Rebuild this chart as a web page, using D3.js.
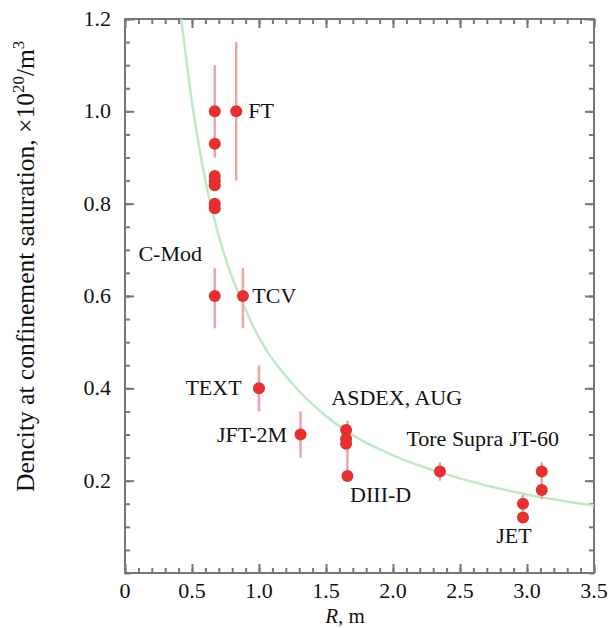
<!DOCTYPE html>
<html lang="en">
<head>
<meta charset="utf-8">
<script src="https://cdn.jsdelivr.net/npm/d3@7"></script>
<style>
  body { margin: 0; background: #fff; }
  .lbl { font-size: 22px; }
  .tick-lbl { font-size: 22px; }
</style>
</head>
<body>
<div id="chart"></div>
<script>
// measured points: R (m), density (1e20/m^3)
var pointR   = [0.67, 0.67, 0.67, 0.67, 0.67, 0.67, 0.67, 0.67, 0.83, 0.88, 1.00, 1.31, 1.65, 1.65, 1.65, 1.66, 2.35, 2.97, 2.97, 3.11, 3.11];
var pointN   = [1.00, 0.93, 0.86, 0.85, 0.84, 0.80, 0.79, 0.60, 1.00, 0.60, 0.40, 0.30, 0.31, 0.29, 0.28, 0.21, 0.22, 0.15, 0.12, 0.22, 0.18];
// error bars: [R, low, high]
var errBars  = [[0.67, 0.90, 1.10], [0.83, 0.85, 1.15], [0.67, 0.53, 0.66], [0.88, 0.53, 0.66],
                [1.00, 0.35, 0.45], [1.31, 0.25, 0.35], [1.66, 0.21, 0.33], [2.35, 0.20, 0.24],
                [2.97, 0.11, 0.17], [3.11, 0.16, 0.24]];
// scaling curve
var curveR   = [0.42, 0.5, 0.6, 0.7, 0.8, 0.9, 1.0, 1.25, 1.5, 1.75, 2.0, 2.5, 3.0, 3.5];
var curveN   = [1.2, 1.02, 0.85, 0.73, 0.64, 0.57, 0.51, 0.41, 0.34, 0.29, 0.255, 0.205, 0.17, 0.146];
// machine names, position (data coords), anchor
var labelTxt = ["FT", "C-Mod", "TCV", "TEXT", "JFT-2M", "ASDEX, AUG", "Tore Supra", "JT-60", "DIII-D", "JET"];
var labelR   = [0.92, 0.10, 0.95, 0.87, 1.21, 1.54, 2.10, 2.87, 1.68, 2.77];
var labelN   = [1.00, 0.69, 0.60, 0.40, 0.30, 0.38, 0.29, 0.29, 0.17, 0.08];
var labelEnd = [false, false, false, true, true, false, false, false, false, false];

var xTicks = [0, 0.5, 1.0, 1.5, 2.0, 2.5, 3.0, 3.5];
var yTicks = [0.2, 0.4, 0.6, 0.8, 1.0, 1.2];

var serif = "Liberation Serif";

var width = 608, height = 628;
var margin = {top: 19, right: 14, bottom: 55, left: 125};

var svg = d3.select("#chart").append("svg")
    .attr("width", width)
    .attr("height", height)
    .attr("font-family", serif)
    .attr("fill", "#111");

var x = d3.scaleLinear().domain([0, 3.5]).range([margin.left, width - margin.right]);
var y = d3.scaleLinear().domain([0, 1.2]).range([height - margin.bottom, margin.top]);

var axisColor = "#777";

// frame
svg.append("rect")
    .attr("x", x(0)).attr("y", y(1.2))
    .attr("width", x(3.5) - x(0)).attr("height", y(0) - y(1.2))
    .attr("fill", "none").attr("stroke", axisColor).attr("stroke-width", 2);

// inward ticks: minor every 0.1 on x, 0.05 on y
function addAxis(axis, pos) {
  var g = svg.append("g").attr("transform", pos).call(axis);
  g.select(".domain").remove();
  g.selectAll("line").attr("stroke", axisColor).attr("stroke-width", 2);
  g.selectAll("text").remove();
  return g;
}
var xMinor = d3.range(0, 3.51, 0.1), yMinor = d3.range(0, 1.21, 0.05);
addAxis(d3.axisBottom(x).tickValues(xMinor).tickSize(-5), "translate(0," + y(0) + ")");
addAxis(d3.axisBottom(x).tickValues(xTicks).tickSize(-9), "translate(0," + y(0) + ")");
addAxis(d3.axisTop(x).tickValues(xMinor).tickSize(-5), "translate(0," + y(1.2) + ")");
addAxis(d3.axisTop(x).tickValues(xTicks).tickSize(-9), "translate(0," + y(1.2) + ")");
addAxis(d3.axisLeft(y).tickValues(yMinor).tickSize(-5), "translate(" + x(0) + ",0)");
addAxis(d3.axisLeft(y).tickValues(yTicks).tickSize(-9), "translate(" + x(0) + ",0)");
addAxis(d3.axisRight(y).tickValues(yMinor).tickSize(-5), "translate(" + x(3.5) + ",0)");
addAxis(d3.axisRight(y).tickValues(yTicks).tickSize(-9), "translate(" + x(3.5) + ",0)");

// tick labels
svg.selectAll(".xl").data(xTicks).enter().append("text")
    .attr("class", "tick-lbl")
    .attr("x", d => x(d)).attr("y", y(0) + 25)
    .attr("text-anchor", "middle")
    .text(d => d === 0 ? "0" : d.toFixed(1));

svg.selectAll(".yl").data(yTicks).enter().append("text")
    .attr("class", "tick-lbl")
    .attr("x", x(0) - 14).attr("y", d => y(d) + 7)
    .attr("text-anchor", "end")
    .text(d => d.toFixed(1));

// axis titles
var xt = svg.append("text")
    .style("font-size", "21px")
    .attr("x", 345).attr("y", 623).attr("text-anchor", "middle");
xt.append("tspan").style("font-style", "italic").text("R");
xt.append("tspan").text(", m");

var yt = svg.append("text")
    .style("font-size", "25.5px")
    .attr("transform", "translate(34,492) rotate(-90)")
    .attr("text-anchor", "start");
yt.append("tspan").text("Dencity at confinement saturation, \u00d710");
yt.append("tspan").attr("dy", -10).style("font-size", "17px").text("20");
yt.append("tspan").attr("dy", 10).text("/m");
yt.append("tspan").attr("dy", -10).style("font-size", "17px").text("3");

// fit curve
svg.append("clipPath").attr("id", "plotclip").append("rect")
    .attr("x", x(0)).attr("y", y(1.2))
    .attr("width", x(3.5) - x(0)).attr("height", y(0) - y(1.2));

var line = d3.line().x(d => x(d[0])).y(d => y(d[1])).curve(d3.curveMonotoneX);
svg.append("path")
    .datum(d3.zip(curveR, curveN))
    .attr("clip-path", "url(#plotclip)")
    .attr("d", line)
    .attr("fill", "none")
    .attr("stroke", "#bfe9c6")
    .attr("stroke-width", 2.5);

// error bars
svg.selectAll(".err").data(errBars).enter().append("line")
    .attr("x1", d => x(d[0])).attr("x2", d => x(d[0]))
    .attr("y1", d => y(d[1])).attr("y2", d => y(d[2]))
    .attr("stroke", "#f0a3aa")
    .attr("stroke-width", 2.5);

// points
svg.selectAll(".pt").data(d3.zip(pointR, pointN)).enter().append("circle")
    .attr("cx", d => x(d[0])).attr("cy", d => y(d[1]))
    .attr("r", 6)
    .attr("fill", "#e5302f");

// labels
svg.selectAll(".name").data(labelTxt).enter().append("text")
    .attr("class", "lbl")
    .attr("x", (d, i) => x(labelR[i])).attr("y", (d, i) => y(labelN[i]) + 7)
    .attr("text-anchor", (d, i) => labelEnd[i] ? "end" : "start")
    .text(d => d);
</script>
</body>
</html>
